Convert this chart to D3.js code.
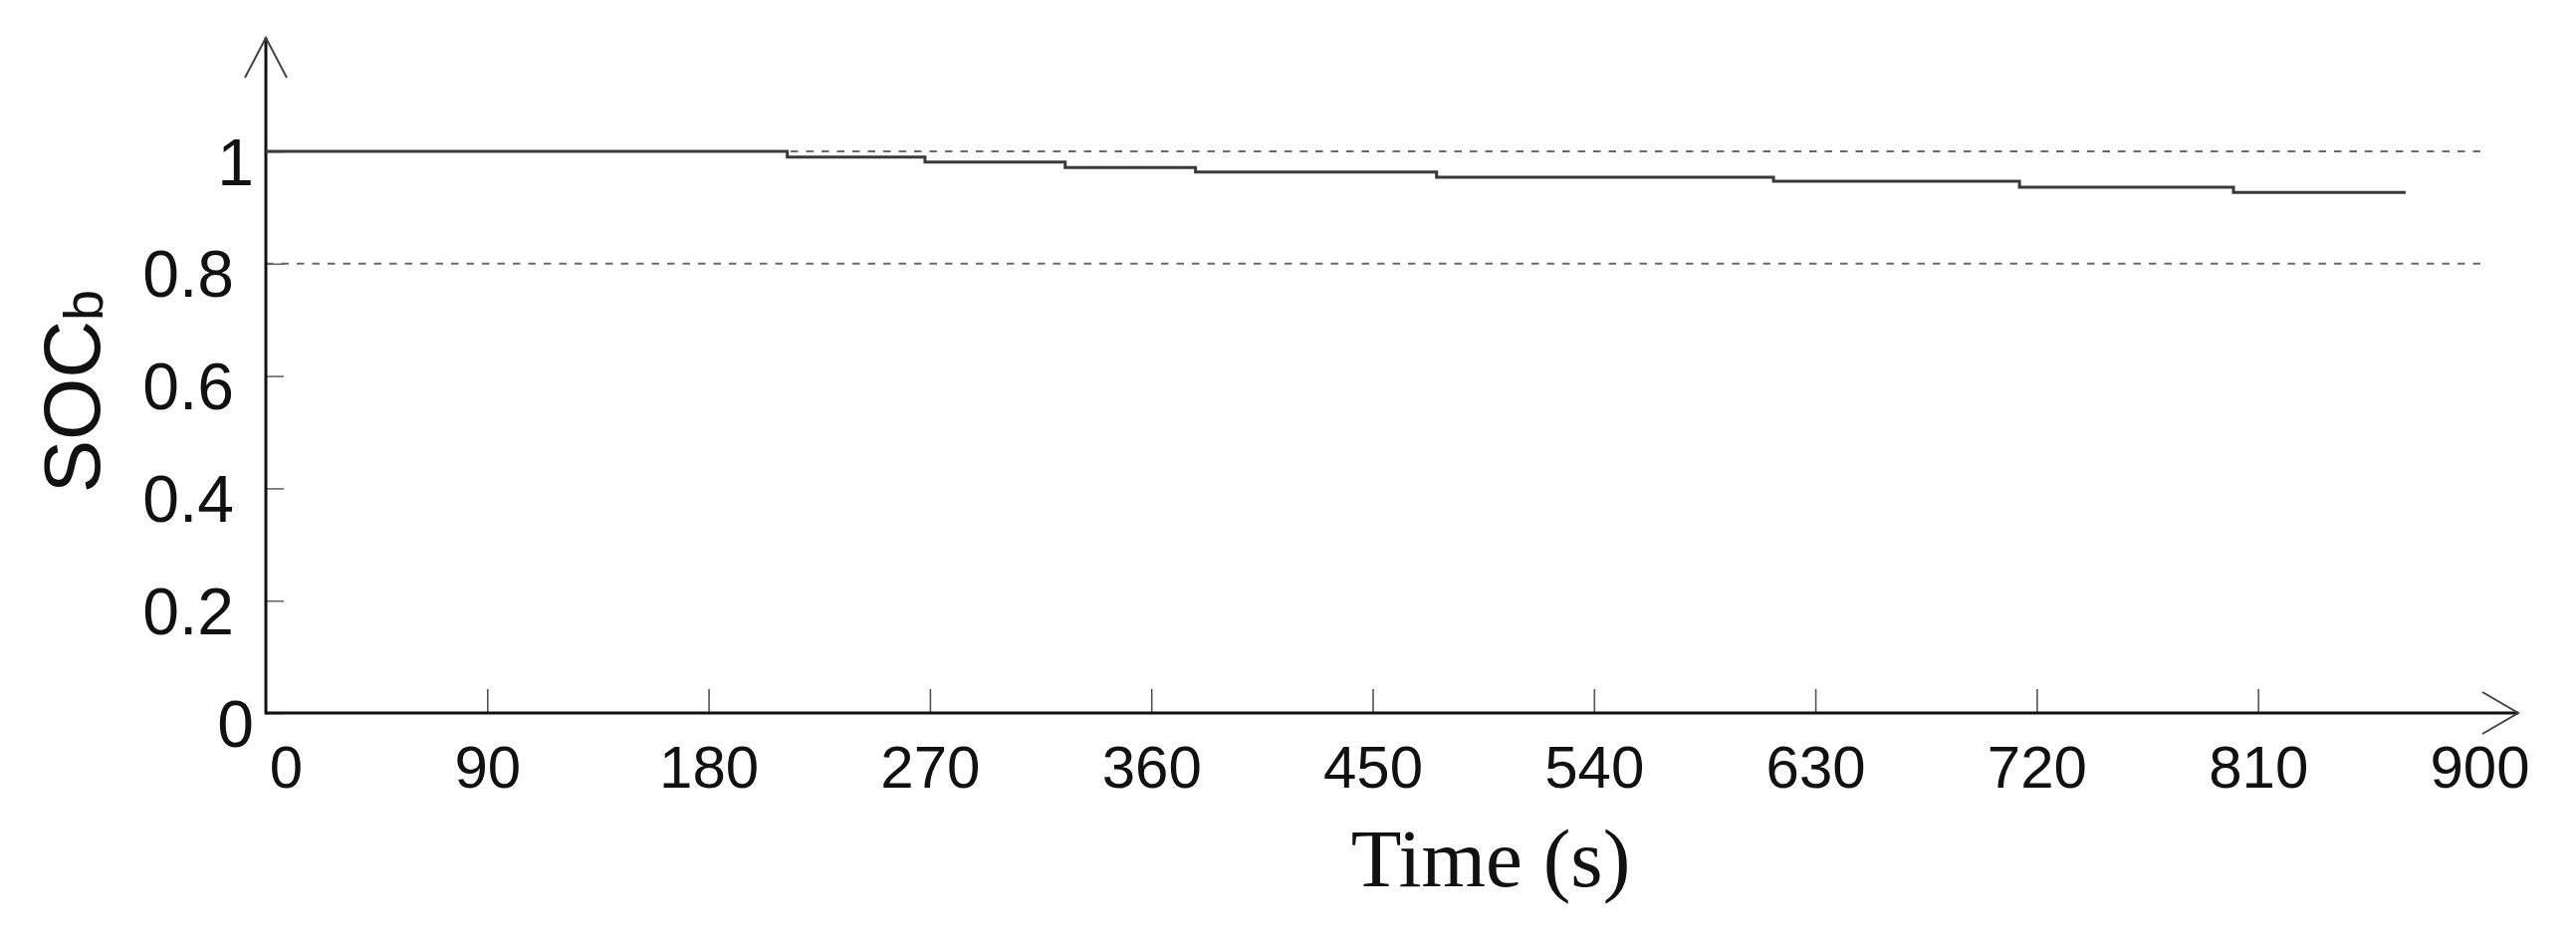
<!DOCTYPE html>
<html lang='en'>
<head>
<meta charset="utf-8">
<script src="https://d3js.org/d3.v7.min.js"></script>
<style>
body { margin: 0; background: #fff; }
svg { display: block; }
</style>
</head>
<body>
<div id="chart"></div>
<script>

// battery state of charge (step changes)
var stepTimes = [0, 212, 268, 325, 378, 476, 613, 713, 800];
var socValues = [1.0, 0.990, 0.981, 0.971, 0.963, 0.954, 0.947, 0.936, 0.927];
var endTime = 870;

// dashed reference levels
var refLevels = [1, 0.8];
var refEnd = 903;

// axis ticks
var xTicks = [0, 90, 180, 270, 360, 450, 540, 630, 720, 810, 900];
var yTicks = [0, 0.2, 0.4, 0.6, 0.8, 1];
var yTickLabels = ["0", "0.2", "0.4", "0.6", "0.8", "1"];

var W = 2587, H = 950;

var svg = d3.select("#chart")
  .append("svg")
    .attr("width", W)
    .attr("height", H)
    .style("background-color", "#fff");

var x = d3.scaleLinear().domain([0, 900]).range([267, 2490]);
var y = d3.scaleLinear().domain([0, 1]).range([716, 152]);

var x0 = x(0), y0 = y(0);

// reference dashed lines
svg.selectAll(".ref")
  .data(refLevels)
  .enter().append("line")
    .attr("class", "ref")
    .attr("x1", x(0))
    .attr("x2", x(refEnd))
    .attr("y1", function(d){ return y(d); })
    .attr("y2", function(d){ return y(d); })
    .style("stroke", "#6a6a6a")
    .style("stroke-width", 2)
    .style("stroke-dasharray", "7.5,8");

// x axis: labels + inward ticks
var xAxis = d3.axisBottom(x)
  .tickValues(xTicks)
  .tickFormat(d3.format("d"))
  .tickSizeInner(-24)
  .tickSizeOuter(0)
  .tickPadding(32);

var gx = svg.append("g")
  .attr("transform", "translate(0," + y0 + ")")
  .call(xAxis);

gx.select(".domain").remove();
gx.selectAll(".tick line")
  .style("stroke", "#555")
  .style("stroke-width", 1.6)
  .style("display", function(d){ return (d === 0 || d === 900) ? "none" : null; });
gx.selectAll(".tick text")
  .attr("font-family", "'Liberation Sans', Arial, sans-serif")
  .attr("font-size", "60px")
  .attr("fill", "#111")
  .attr("dy", "0.71em")
  .attr("x", function(d){ return d === 0 ? 20 : 0; });

// y axis
var yAxis = d3.axisLeft(y)
  .tickValues(yTicks)
  .tickFormat(function(d, i){ return yTickLabels[i]; })
  .tickSizeInner(-18)
  .tickSizeOuter(0)
  .tickPadding(32);

var gy = svg.append("g")
  .attr("transform", "translate(" + x0 + ",0)")
  .call(yAxis);

gy.select(".domain").remove();
gy.selectAll(".tick line")
  .style("stroke", "#666")
  .style("stroke-width", 1.6);
gy.selectAll(".tick text")
  .attr("font-family", "'Liberation Sans', Arial, sans-serif")
  .attr("font-size", "66px")
  .attr("fill", "#111")
  .attr("dy", "0.5em")
  // single-digit labels sit closer to the axis in the original
  .attr("dx", function(d, i){ return yTickLabels[i].length === 1 ? 20 : 0; });

// axis lines with open arrow heads
var tipX = 2529, tipY = 38, head = 36, wing = 21;

svg.append("line")
  .attr("x1", x0).attr("y1", y0)
  .attr("x2", tipX).attr("y2", y0)
  .style("stroke", "#111").style("stroke-width", 3);
svg.append("line")
  .attr("x1", x0).attr("y1", y0 + 1.5)
  .attr("x2", x0).attr("y2", tipY)
  .style("stroke", "#111").style("stroke-width", 3);

svg.append("path")
  .attr("d", "M" + (tipX - head) + "," + (y0 - wing) + "L" + tipX + "," + y0 + "L" + (tipX - head) + "," + (y0 + wing))
  .style("fill", "none").style("stroke", "#444").style("stroke-width", 2);
svg.append("path")
  .attr("d", "M" + (x0 - wing) + "," + (tipY + head + 4) + "L" + x0 + "," + tipY + "L" + (x0 + wing) + "," + (tipY + head + 4))
  .style("fill", "none").style("stroke", "#444").style("stroke-width", 2);

// SOC line
var pts = stepTimes.map(function(t, i){ return [t, socValues[i]]; });
pts.push([endTime, socValues[socValues.length - 1]]);

var line = d3.line()
  .x(function(d){ return x(d[0]); })
  .y(function(d){ return y(d[1]); })
  .curve(d3.curveStepAfter);

svg.append("path")
  .datum(pts)
  .attr("d", line)
  .style("fill", "none")
  .style("stroke", "#3a3a3a")
  .style("stroke-width", 3);

// axis titles
var ylab = svg.append("text")
  .attr("transform", "rotate(-90)")
  .attr("x", -393)
  .attr("y", 100)
  .attr("text-anchor", "middle")
  .attr("font-family", "'Liberation Sans', Arial, sans-serif")
  .attr("font-size", "80px")
  .attr("fill", "#111");
ylab.append("tspan").text("SOC");
ylab.append("tspan").attr("font-size", "56px").attr("dy", 3).text("b");

svg.append("text")
  .attr("x", 1497)
  .attr("y", 890)
  .attr("text-anchor", "middle")
  .attr("font-family", "'Liberation Serif', 'Times New Roman', serif")
  .attr("font-size", "83px")
  .attr("fill", "#111")
  .text("Time (s)");

</script>
</body>
</html>
